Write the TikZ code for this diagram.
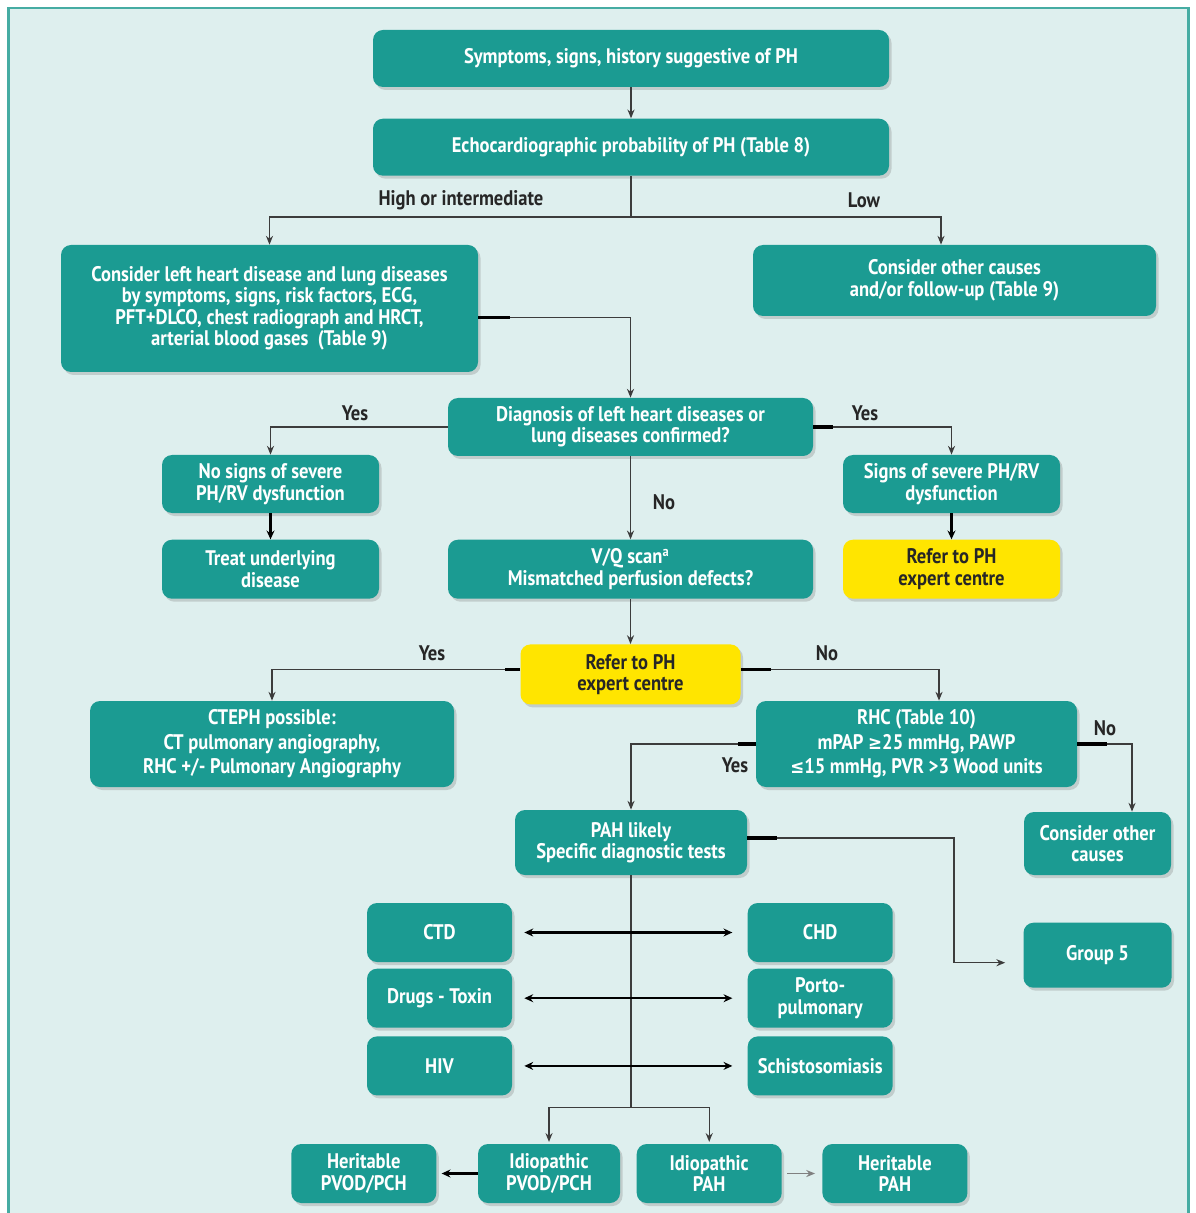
\documentclass[tikz,border=0pt]{standalone}
\usepackage{fontspec}
\setmainfont{PT Sans}[FakeStretch=0.88]
\newfontfamily\symfont{DejaVu Sans}[FakeStretch=0.88, Scale=0.9]
\usetikzlibrary{arrows.meta, positioning, calc, shadows}
\definecolor{boxteal}{RGB}{27,155,146}
\definecolor{paleteal}{RGB}{222,239,238}
\definecolor{frameteal}{RGB}{70,172,163}
\definecolor{alertyellow}{RGB}{255,229,0}
\definecolor{linegray}{RGB}{60,60,60}
\tikzstyle{block} = [rectangle, rounded corners=0.2cm, fill=boxteal, text=white, align=center, inner sep=2pt, font=\bfseries\fontsize{12}{12.2}\selectfont, drop shadow={shadow xshift=0.05cm, shadow yshift=-0.06cm, opacity=0.3}]
\tikzstyle{wide}  = [font=\bfseries\fontsize{12}{14}\selectfont]
\tikzstyle{refer} = [block, fill=alertyellow, text=black!85]
\tikzstyle{tile}  = [block, minimum width=2.9cm, minimum height=1.18cm]
\tikzstyle{answer} = [font=\bfseries\fontsize{12}{12.2}\selectfont, text=black!85]
\tikzstyle{flow}  = [line width=0.8pt, ->, >={Stealth[length=5pt, width=4pt]}, linegray]
\tikzstyle{heavy} = [line width=1.4pt, ->, >={Stealth[length=5pt, width=4.5pt]}, black]
\tikzstyle{stub}  = [line width=2pt, black]

\begin{document}
\begin{tikzpicture}[node distance=0.5cm]

	% Canvas
	\useasboundingbox (0,0) rectangle (23.9,-24.26);
	\fill[white] (0,0) rectangle (23.9,-24.26);
	\draw[frameteal, line width=1.2pt, fill=paleteal] (0.17,-0.16) rectangle (23.77,-24.8);

	% Screening
	\node (symptoms) [block, minimum width=10.32cm, minimum height=1.14cm] at (12.62,-1.17) {Symptoms, signs, history suggestive of PH};
	\node (echo) [block, below=0.62cm of symptoms, minimum width=10.32cm, minimum height=1.14cm] {Echocardiographic probability of PH (Table 8)};
	\node (consider_lhd) [block, minimum width=8.34cm, minimum height=2.54cm] at (5.39,-6.17) {Consider left heart disease and lung diseases\\by symptoms, signs, risk factors, ECG,\\PFT+DLCO, chest radiograph and HRCT,\\arterial blood gases~ (Table 9)};
	\node (other_causes) [block, minimum width=8.06cm, minimum height=1.42cm] at (19.09,-5.61) {Consider other causes\\and/or follow-up (Table 9)};

	% Diagnosis
	\node (diagnosis) [block, minimum width=7.3cm, minimum height=1.16cm] at (12.61,-8.54) {Diagnosis of left heart diseases or\\lung diseases confirmed?};
	\node (no_signs) [block, minimum width=4.34cm, minimum height=1.16cm] at (5.41,-9.68) {No signs of severe\\PH/RV dysfunction};
	\node (treat) [block, below=0.52cm of no_signs, minimum width=4.34cm, minimum height=1.18cm] {Treat underlying\\disease};
	\node (severe_signs) [block, minimum width=4.34cm, minimum height=1.16cm] at (19.03,-9.68) {Signs of severe PH/RV\\dysfunction};
	\node (refer_a) [refer, below=0.52cm of severe_signs, minimum width=4.34cm, minimum height=1.18cm] {Refer to PH\\expert centre};
	\node (vq_scan) [block, below=1.66cm of diagnosis, minimum width=7.3cm, minimum height=1.18cm] {V/Q scan\textsuperscript{a}\\Mismatched perfusion defects?};
	\node (refer_b) [refer, below=0.9cm of vq_scan, minimum width=4.4cm, minimum height=1.2cm] {Refer to PH\\expert centre};

	% Catheterisation
	\node (cteph) [block, wide, minimum width=7.28cm, minimum height=1.72cm] at (5.44,-14.88) {CTEPH possible:\\CT pulmonary angiography,\\RHC +/- Pulmonary Angiography};
	\node (rhc) [block, wide, minimum width=6.42cm, minimum height=1.72cm] at (18.33,-14.88) {RHC (Table 10)\\mPAP {\symfont ≥}25 mmHg, PAWP\\{\symfont ≤}15 mmHg, PVR >3 Wood units};
	\node (pah_likely) [block, minimum width=4.64cm, minimum height=1.3cm] at (12.62,-16.85) {PAH likely\\Specific diagnostic tests};
	\node (other_causes_b) [block, minimum width=2.94cm, minimum height=1.26cm] at (21.95,-16.87) {Consider other\\causes};
	\node (group_five) [block, below=0.94cm of other_causes_b, minimum width=2.96cm, minimum height=1.3cm] {Group 5};

	% Associated conditions
	\node (ctd) [tile] at (8.79,-18.65) {CTD};
	\node (drugs) [tile, below=0.12cm of ctd] {Drugs - Toxin};
	\node (hiv) [tile, below=0.16cm of drugs] {HIV};
	\node (chd) [tile, right=4.7cm of ctd] {CHD};
	\node (porto) [tile, right=4.7cm of drugs] {Porto-\\pulmonary};
	\node (schisto) [tile, right=4.7cm of hiv] {Schistosomiasis};

	% Final groups
	\node (idiopathic_pvod) [tile, minimum width=2.84cm] at (10.98,-23.47) {Idiopathic\\PVOD/PCH};
	\node (idiopathic_pah) [tile, right=0.32cm of idiopathic_pvod] {Idiopathic\\PAH};
	\node (heritable_pvod) [tile, left=0.82cm of idiopathic_pvod] {Heritable\\PVOD/PCH};
	\node (heritable_pah) [tile, right=0.8cm of idiopathic_pah] {Heritable\\PAH};

	% Labels
	\node (lbl_high) [answer] at (9.22,-4.0) {High or intermediate};
	\node (lbl_low) [answer] at (17.28,-4.0) {Low};
	\node (lbl_yes_a) [answer] at (7.1,-8.26) {Yes};
	\node (lbl_yes_b) [answer] at (17.3,-8.26) {Yes};
	\node (lbl_no_a) [answer] at (13.28,-10.04) {No};
	\node (lbl_yes_c) [answer] at (8.64,-13.06) {Yes};
	\node (lbl_no_b) [answer] at (16.54,-13.06) {No};
	\node (lbl_yes_d) [answer] at (14.7,-15.3) {Yes};
	\node (lbl_no_c) [answer] at (22.1,-14.56) {No};

	% Arrows
	\draw[flow] (symptoms) -- (echo);
	\draw[flow, -] (echo.south) -- ++(0,-0.82) coordinate (split_echo);
	\draw[flow] (split_echo) -| (consider_lhd.north);
	\draw[flow] (split_echo) -| ([xshift=-0.27cm]other_causes.north);

	\draw[flow] ([yshift=-0.18cm]consider_lhd.east) -| (diagnosis.north);
	\draw[stub] ([yshift=-0.18cm]consider_lhd.east) -- ++(0.64,0);

	\draw[flow] (diagnosis.west) -| (no_signs.north);
	\draw[flow] (diagnosis.east) -| (severe_signs.north);
	\draw[stub] (diagnosis.east) -- ++(0.4,0);
	\draw[heavy] (no_signs) -- (treat);
	\draw[heavy] (severe_signs) -- (refer_a);
	\draw[flow] (diagnosis) -- (vq_scan);
	\draw[flow] (vq_scan) -- (refer_b);

	\draw[flow] ([yshift=0.1cm]refer_b.west) -| (cteph.north);
	\draw[flow] ([yshift=0.1cm]refer_b.east) -| ([xshift=0.45cm]rhc.north);
	\draw[stub] ([yshift=0.1cm]refer_b.west) -- ++(-0.3,0);
	\draw[stub] ([yshift=0.1cm]refer_b.east) -- ++(0.6,0);

	\draw[flow] (rhc.west) -| (pah_likely.north);
	\draw[stub] (rhc.west) -- ++(-0.36,0);
	\draw[flow] (rhc.east) -| ([xshift=0.69cm]other_causes_b.north);
	\draw[stub] (rhc.east) -- ++(0.6,0);

	\draw[flow, shorten >=0.36cm] ([yshift=0.09cm]pah_likely.east) -| ($(group_five.west)+(-1.38,-0.15)$) -- ([yshift=-0.15cm]group_five.west);
	\draw[stub] ([yshift=0.09cm]pah_likely.east) -- ++(0.6,0);

	\draw[flow, -] (pah_likely.south) -- ++(0,-4.64) coordinate (split_pah);
	\draw[flow, shorten >=1pt] (split_pah) -| (idiopathic_pvod.north);
	\draw[flow, shorten >=1pt] (split_pah) -| (idiopathic_pah.north);

	\draw[heavy, <->, shorten <=0.24cm, shorten >=0.3cm] (ctd) -- (chd);
	\draw[heavy, <->, shorten <=0.24cm, shorten >=0.3cm] (drugs) -- (porto);
	\draw[heavy, <->, shorten <=0.24cm, shorten >=0.3cm] (hiv) -- (schisto);

	\draw[heavy, shorten >=0.1cm] (idiopathic_pvod) -- (heritable_pvod);
	\draw[flow, gray, shorten <=0.1cm, shorten >=0.14cm] (idiopathic_pah) -- (heritable_pah);

\end{tikzpicture}
\end{document}
